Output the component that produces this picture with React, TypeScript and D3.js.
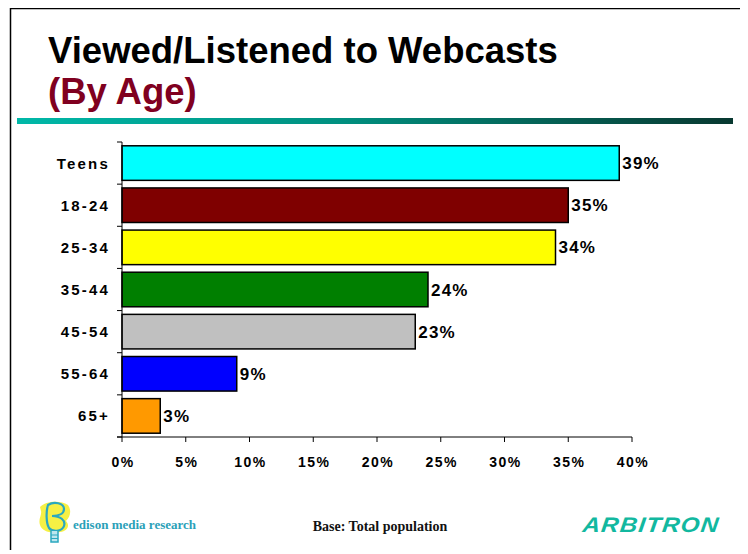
import { useEffect, useRef } from "react";
import * as d3 from "d3";

const categories = ["Teens", "18-24", "25-34", "35-44", "45-54", "55-64", "65+"];
const values = [39, 35, 34, 24, 23, 9, 3];
const barColors = ["#00FFFF", "#7F0000", "#FFFF00", "#007F00", "#C0C0C0", "#0000FF", "#FF9900"];
const xTicks = [0, 5, 10, 15, 20, 25, 30, 35, 40];

export default function App() {
  const svgRef = useRef<SVGSVGElement>(null);

  useEffect(() => {
    const svg = d3.select(svgRef.current);
    svg.selectAll("*").remove();
    const width = 748;
    const height = 554;
    const margin = { top: 142, left: 122, right: 116, bottom: 117 };

    svg.attr("width", width).attr("height", height).style("background", "#fff");

    // slide frame
    svg
      .append("rect")
      .attr("x", 10.5)
      .attr("y", 8.5)
      .attr("width", 731)
      .attr("height", 560)
      .attr("fill", "none")
      .attr("stroke", "#000")
      .attr("stroke-width", 1.5);

    // title
    svg
      .append("text")
      .attr("x", 48)
      .attr("y", 63)
      .attr("font-family", "Liberation Sans, Arial, sans-serif")
      .attr("font-weight", "bold")
      .attr("font-size", 36.5)
      .attr("fill", "#000")
      .text("Viewed/Listened to Webcasts");
    svg
      .append("text")
      .attr("x", 48)
      .attr("y", 104)
      .attr("font-family", "Liberation Sans, Arial, sans-serif")
      .attr("font-weight", "bold")
      .attr("font-size", 36.5)
      .attr("fill", "#800020")
      .text("(By Age)");

    // gradient rule
    const defs = svg.append("defs");
    const grad = defs.append("linearGradient").attr("id", "rule").attr("x1", "0").attr("x2", "1");
    grad.append("stop").attr("offset", "0").attr("stop-color", "#00B8A8");
    grad.append("stop").attr("offset", "0.45").attr("stop-color", "#009080");
    grad.append("stop").attr("offset", "1").attr("stop-color", "#083830");
    svg
      .append("rect")
      .attr("x", 17)
      .attr("y", 118)
      .attr("width", 716)
      .attr("height", 6)
      .attr("fill", "url(#rule)");

    const x = d3
      .scaleLinear()
      .domain([0, 40])
      .range([margin.left, width - margin.right]);
    const y = d3
      .scaleBand()
      .domain(categories)
      .range([margin.top, height - margin.bottom])
      .paddingInner(0.18)
      .paddingOuter(0.09);

    const step = y.step();
    const labelFont = "Liberation Sans, Arial, sans-serif";

    // bars
    svg
      .selectAll(".bar")
      .data(values)
      .enter()
      .append("rect")
      .attr("x", x(0))
      .attr("y", (_, i) => y(categories[i])!)
      .attr("width", (d) => x(d) - x(0))
      .attr("height", y.bandwidth())
      .attr("fill", (_, i) => barColors[i])
      .attr("stroke", "#000")
      .attr("stroke-width", 1.5);

    // value labels
    svg
      .selectAll(".val")
      .data(values)
      .enter()
      .append("text")
      .attr("x", (d) => x(d) + 3)
      .attr("y", (_, i) => y(categories[i])! + y.bandwidth() / 2 + 6)
      .attr("font-family", labelFont)
      .attr("font-weight", "bold")
      .attr("font-size", 17)
      .attr("letter-spacing", 1.2)
      .text((d) => `${d}%`);

    // y axis
    const yTop = margin.top;
    const yBottom = height - margin.bottom;
    svg
      .append("line")
      .attr("x1", x(0))
      .attr("x2", x(0))
      .attr("y1", yTop)
      .attr("y2", yBottom)
      .attr("stroke", "#000")
      .attr("stroke-width", 1);
    d3.range(categories.length + 1).forEach((i) => {
      const yy = yTop + i * step;
      svg
        .append("line")
        .attr("x1", x(0) - 5)
        .attr("x2", x(0))
        .attr("y1", yy)
        .attr("y2", yy)
        .attr("stroke", "#000");
    });
    svg
      .selectAll(".cat")
      .data(categories)
      .enter()
      .append("text")
      .attr("x", 110)
      .attr("y", (d) => y(d)! + y.bandwidth() / 2 + 5.5)
      .attr("text-anchor", "end")
      .attr("font-family", labelFont)
      .attr("font-weight", "bold")
      .attr("font-size", 15)
      .attr("letter-spacing", 2.2)
      .text((d) => d);

    // x axis
    svg
      .append("line")
      .attr("x1", x(0) - 5)
      .attr("x2", x(40))
      .attr("y1", yBottom)
      .attr("y2", yBottom)
      .attr("stroke", "#000");
    xTicks.forEach((t) => {
      svg
        .append("line")
        .attr("x1", x(t))
        .attr("x2", x(t))
        .attr("y1", yBottom)
        .attr("y2", yBottom + 5)
        .attr("stroke", "#000");
      svg
        .append("text")
        .attr("x", x(t) + 1)
        .attr("y", yBottom + 30)
        .attr("text-anchor", "middle")
        .attr("font-family", labelFont)
        .attr("font-weight", "bold")
        .attr("font-size", 14)
        .attr("letter-spacing", 1.5)
        .text(`${t}%`);
    });

    // footer: edison logo
    const logo = svg.append("g").attr("transform", "translate(38,501)");
    logo
      .append("path")
      .attr("d", "M2,6 C8,0 22,-1 30,4 C34,10 32,16 28,20 C32,24 30,30 22,31 C12,33 4,30 2,24 C0,18 4,14 3,10 Z")
      .attr("fill", "#F5EE30")
      .attr("opacity", 0.9);
    logo
      .append("path")
      .attr("d", "M10,4 C16,0 26,2 26,8 C26,13 20,15 14,15 C22,15 28,19 26,25 C24,31 14,31 11,27 C8,22 8,10 10,4 Z")
      .attr("fill", "none")
      .attr("stroke", "#2AA8C0")
      .attr("stroke-width", 2.2);
    logo
      .append("path")
      .attr("d", "M13,30 L13,41 L20,41 L20,30")
      .attr("fill", "#BDE6EE")
      .attr("stroke", "#2AA8C0")
      .attr("stroke-width", 1.5);
    logo
      .append("path")
      .attr("d", "M13,34 L20,34 M13,37.5 L20,37.5")
      .attr("stroke", "#2AA8C0")
      .attr("stroke-width", 1);
    svg
      .append("text")
      .attr("x", 73)
      .attr("y", 529)
      .attr("font-family", "Liberation Serif, Times New Roman, serif")
      .attr("font-weight", "bold")
      .attr("font-size", 13)
      .attr("fill", "#2AA0B8")
      .text("edison media research");

    svg
      .append("text")
      .attr("x", 380)
      .attr("y", 531)
      .attr("text-anchor", "middle")
      .attr("font-family", "Liberation Serif, Times New Roman, serif")
      .attr("font-weight", "bold")
      .attr("font-size", 14)
      .attr("fill", "#111")
      .text("Base: Total population");

    svg
      .append("text")
      .attr("x", 0)
      .attr("y", 0)
      .attr("font-family", "Liberation Sans, Arial, sans-serif")
      .attr("font-weight", "bold")
      .attr("font-style", "italic")
      .attr("font-size", 21)
      .attr("letter-spacing", 1)
      .attr("fill", "#12B8A0")
      .attr("transform", "translate(582,532) scale(1.15,1) skewX(-6)")
      .text("ARBITRON");
  }, []);

  return (
    <div style={{ margin: -8 }}>
      <svg ref={svgRef}></svg>
    </div>
  );
}
